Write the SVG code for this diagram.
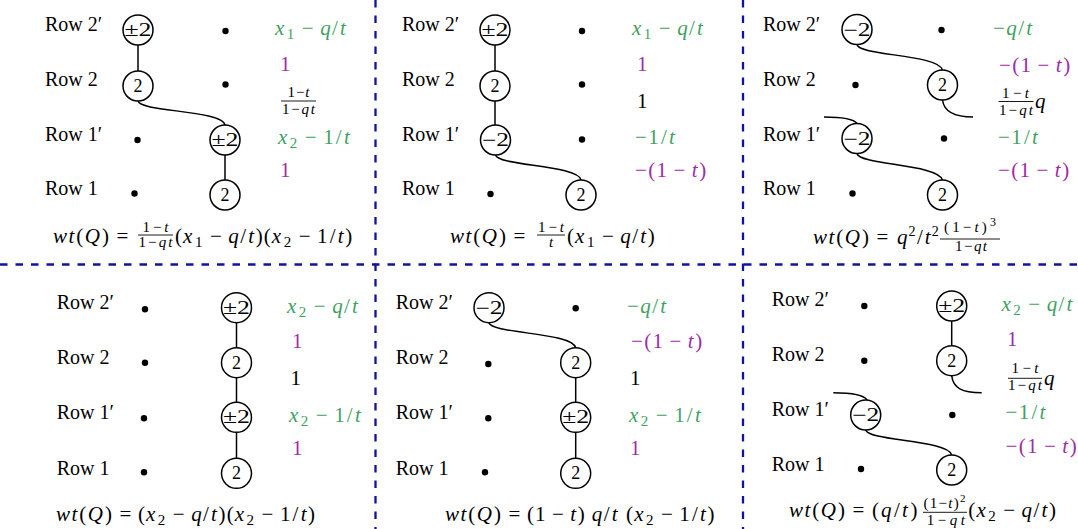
<svg xmlns="http://www.w3.org/2000/svg" width="1078" height="529" viewBox="0 0 1078 529">
<style>
.t{font-family:"Liberation Serif","DejaVu Serif",serif;font-size:20px;fill:#000}
.x{font-family:"Liberation Serif","DejaVu Serif",serif;font-size:21px;fill:#000}
.f{font-family:"Liberation Serif","DejaVu Serif",serif;font-size:15px;fill:#000;text-anchor:middle}
.i{font-style:italic}
.s{font-size:15px}
.g{fill:#3f9f62}
.m{fill:#a12aa6}
.n circle{fill:#fff;stroke:#000;stroke-width:1.5}
.n text{font-family:"Liberation Serif","DejaVu Serif",serif;font-size:18px;text-anchor:middle;fill:#000}
.d circle{fill:#000}
.e{fill:none;stroke:#000;stroke-width:1.5}
.bar{stroke:#000;stroke-width:0.9}
.sep{stroke:#12129a;stroke-width:2.3;stroke-dasharray:7.5 8;fill:none}
</style>
<rect width="1078" height="529" fill="#fff"/>
<g id="separators">
<line class="sep" x1="375.5" y1="0" x2="375.5" y2="529"/>
<line class="sep" x1="743" y1="0" x2="743" y2="529"/>
<line class="sep" x1="0" y1="264.5" x2="1078" y2="264.5"/>
</g>
<g id="connectors">
<line class="e" x1="138" y1="45" x2="138" y2="71"/>
<path class="e" d="M138,101 C140,112 222,110 225,125"/>
<line class="e" x1="225" y1="155" x2="225" y2="180"/>
<line class="e" x1="495" y1="45" x2="495" y2="71"/>
<line class="e" x1="495" y1="101" x2="495" y2="125"/>
<path class="e" d="M495.5,155 C498,166 578,165 581,180"/>
<path class="e" d="M857,44.5 C859,56 938,54 942.5,70"/>
<path class="e" d="M942.5,100 C944,112 955,117 973,117"/>
<path class="e" d="M824,117 C840,117 853,118 857,123.5"/>
<path class="e" d="M857,153.5 C859,165 938,164 942.5,180"/>
<line class="e" x1="236.5" y1="322.7" x2="236.5" y2="347.7"/>
<line class="e" x1="236.5" y1="377.7" x2="236.5" y2="402.3"/>
<line class="e" x1="236.5" y1="432.3" x2="236.5" y2="458.3"/>
<path class="e" d="M489,322.7 C491,334 572,332 575.7,347.7"/>
<line class="e" x1="575.7" y1="377.7" x2="575.7" y2="402.3"/>
<line class="e" x1="575.7" y1="432.3" x2="575.7" y2="458.3"/>
<line class="e" x1="951.7" y1="321" x2="951.7" y2="345.7"/>
<path class="e" d="M951.7,375.7 C953,388 962,392.7 981.7,392.7"/>
<path class="e" d="M833.3,392.7 C852,392.7 864,395 867,400"/>
<path class="e" d="M865.7,430 C868,441 948,440 951.7,455"/>
</g>
<!-- Panel 1 -->
<g id="p1-labels">
<text class="t" x="45" y="31">Row 2′</text>
<text class="t" x="45" y="86">Row 2</text>
<text class="t" x="45" y="141">Row 1′</text>
<text class="t" x="45" y="195">Row 1</text>
</g>
<g id="p1-n1" class="n"><circle cx="138" cy="30" r="15"/><text x="138" y="36" textLength="27" lengthAdjust="spacingAndGlyphs">±2</text></g>
<g id="p1-n2" class="n"><circle cx="138" cy="86" r="15"/><text x="138" y="92">2</text></g>
<g id="p1-n3" class="n"><circle cx="225" cy="140" r="15"/><text x="225" y="146" textLength="27" lengthAdjust="spacingAndGlyphs">±2</text></g>
<g id="p1-n4" class="n"><circle cx="225" cy="195" r="15"/><text x="225" y="201">2</text></g>
<g id="p1-dots" class="d"><circle cx="225.5" cy="31" r="3.2"/><circle cx="225.5" cy="84.5" r="3.2"/><circle cx="137.5" cy="140" r="3.2"/><circle cx="134.5" cy="193.5" r="3.2"/></g>
<g id="p1-weights">
<text class="x g" x="275" y="35"><tspan class="i">x</tspan><tspan class="s" dx="2.5" dy="4">1</tspan><tspan dx="7.5" dy="-4">−</tspan><tspan class="i" dx="6.5">q</tspan><tspan dx="1.4">/</tspan><tspan class="i" dx="2.2">t</tspan></text>
<text class="x m" x="280" y="71">1</text>
<text class="f" x="298.5" y="97" textLength="22" lengthAdjust="spacing">1−<tspan class="i">t</tspan></text>
<line class="bar" x1="281" y1="101" x2="316" y2="101"/>
<text class="f" x="298.5" y="114" textLength="33" lengthAdjust="spacing">1−<tspan class="i">qt</tspan></text>
<text class="x g" x="278" y="144"><tspan class="i">x</tspan><tspan class="s" dx="2.5" dy="4">2</tspan><tspan dx="7.5" dy="-4">−</tspan><tspan dx="6.5">1</tspan><tspan dx="2.2">/</tspan><tspan class="i" dx="2.2">t</tspan></text>
<text class="x m" x="280" y="177">1</text>
</g>
<g id="p1-formula">
<text class="x" x="53" y="242.5"><tspan class="i">w</tspan><tspan class="i" dx="1.5">t</tspan><tspan dx="2">(</tspan><tspan class="i" dx="1.5">Q</tspan><tspan dx="2">)</tspan><tspan dx="7.5">=</tspan></text>
<text class="f" x="155.5" y="232" textLength="26" lengthAdjust="spacing">1−<tspan class="i">t</tspan></text>
<line class="bar" x1="138" y1="235" x2="173" y2="235"/>
<text class="f" x="155.5" y="246.5" textLength="34" lengthAdjust="spacing">1−<tspan class="i">qt</tspan></text>
<text class="x" x="175" y="242.5">(<tspan class="i" dx="1.1">x</tspan><tspan class="s" dx="2.5" dy="4">1</tspan><tspan dx="7.5" dy="-4">−</tspan><tspan class="i" dx="6.5">q</tspan><tspan dx="1.4">/</tspan><tspan class="i" dx="2.2">t</tspan><tspan dx="1.6">)</tspan><tspan dx="1.1">(</tspan><tspan class="i" dx="1.1">x</tspan><tspan class="s" dx="2.5" dy="4">2</tspan><tspan dx="7.5" dy="-4">−</tspan><tspan dx="6.5">1</tspan><tspan dx="2.2">/</tspan><tspan class="i" dx="2.2">t</tspan><tspan dx="1.6">)</tspan></text>
</g>
<!-- Panel 2 -->
<g id="p2-labels">
<text class="t" x="402" y="31">Row 2′</text>
<text class="t" x="402" y="86">Row 2</text>
<text class="t" x="402" y="141">Row 1′</text>
<text class="t" x="402" y="195">Row 1</text>
</g>
<g id="p2-n1" class="n"><circle cx="495" cy="30" r="15"/><text x="495" y="36" textLength="27" lengthAdjust="spacingAndGlyphs">±2</text></g>
<g id="p2-n2" class="n"><circle cx="495" cy="86" r="15"/><text x="495" y="92">2</text></g>
<g id="p2-n3" class="n"><circle cx="495.5" cy="140" r="15"/><text x="495.5" y="146" textLength="27" lengthAdjust="spacingAndGlyphs">−2</text></g>
<g id="p2-n4" class="n"><circle cx="581" cy="195" r="15"/><text x="581" y="201">2</text></g>
<g id="p2-dots" class="d"><circle cx="582" cy="31" r="3.2"/><circle cx="582" cy="84.5" r="3.2"/><circle cx="582" cy="139.5" r="3.2"/><circle cx="490.5" cy="194" r="3.2"/></g>
<g id="p2-weights">
<text class="x g" x="632" y="35"><tspan class="i">x</tspan><tspan class="s" dx="2.5" dy="4">1</tspan><tspan dx="7.5" dy="-4">−</tspan><tspan class="i" dx="6.5">q</tspan><tspan dx="1.4">/</tspan><tspan class="i" dx="2.2">t</tspan></text>
<text class="x m" x="637" y="71">1</text>
<text class="x" x="637" y="107.5">1</text>
<text class="x g" x="635" y="143.5">−<tspan dx="1.5">1</tspan><tspan dx="2.2">/</tspan><tspan class="i" dx="2.2">t</tspan></text>
<text class="x m" x="635" y="176.5">−<tspan dx="1.5">(</tspan><tspan dx="1.1">1</tspan><tspan dx="6.5">−</tspan><tspan class="i" dx="6.5">t</tspan><tspan dx="1.6">)</tspan></text>
</g>
<g id="p2-formula">
<text class="x" x="450" y="242.5"><tspan class="i">w</tspan><tspan class="i" dx="1.5">t</tspan><tspan dx="2">(</tspan><tspan class="i" dx="1.5">Q</tspan><tspan dx="2">)</tspan><tspan dx="7.5">=</tspan></text>
<text class="f" x="551" y="232" textLength="26" lengthAdjust="spacing">1−<tspan class="i">t</tspan></text>
<line class="bar" x1="537" y1="235" x2="565" y2="235"/>
<text class="f i" x="551" y="246.5">t</text>
<text class="x" x="567" y="242.5">(<tspan class="i" dx="1.1">x</tspan><tspan class="s" dx="2.5" dy="4">1</tspan><tspan dx="7.5" dy="-4">−</tspan><tspan class="i" dx="6.5">q</tspan><tspan dx="1.4">/</tspan><tspan class="i" dx="2.2">t</tspan><tspan dx="1.6">)</tspan></text>
</g>
<!-- Panel 3 -->
<g id="p3-labels">
<text class="t" x="763" y="31">Row 2′</text>
<text class="t" x="763" y="86">Row 2</text>
<text class="t" x="763" y="141">Row 1′</text>
<text class="t" x="763" y="195">Row 1</text>
</g>
<g id="p3-n1" class="n"><circle cx="857" cy="29.5" r="15"/><text x="857" y="35.5" textLength="27" lengthAdjust="spacingAndGlyphs">−2</text></g>
<g id="p3-n2" class="n"><circle cx="942.5" cy="85" r="15"/><text x="942.5" y="91">2</text></g>
<g id="p3-n3" class="n"><circle cx="857" cy="138.5" r="15"/><text x="857" y="144.5" textLength="27" lengthAdjust="spacingAndGlyphs">−2</text></g>
<g id="p3-n4" class="n"><circle cx="942.5" cy="195" r="15"/><text x="942.5" y="201">2</text></g>
<g id="p3-dots" class="d"><circle cx="941.5" cy="30" r="3.2"/><circle cx="855.5" cy="85" r="3.2"/><circle cx="944" cy="138.5" r="3.2"/><circle cx="852.5" cy="193.5" r="3.2"/></g>
<g id="p3-weights">
<text class="x g" x="993" y="35">−<tspan class="i" dx="1.5">q</tspan><tspan dx="1.4">/</tspan><tspan class="i" dx="2.2">t</tspan></text>
<text class="x m" x="999" y="71.5">−<tspan dx="1.5">(</tspan><tspan dx="1.1">1</tspan><tspan dx="6.5">−</tspan><tspan class="i" dx="6.5">t</tspan><tspan dx="1.6">)</tspan></text>
<text class="f" x="1015.5" y="97.5" textLength="27" lengthAdjust="spacing">1−<tspan class="i">t</tspan></text>
<line class="bar" x1="998.5" y1="101.5" x2="1033.5" y2="101.5"/>
<text class="f" x="1016" y="114.5" textLength="34" lengthAdjust="spacing">1−<tspan class="i">qt</tspan></text>
<text class="x i" x="1035" y="108">q</text>
<text class="x g" x="998" y="143.5">−<tspan dx="1.5">1</tspan><tspan dx="2.2">/</tspan><tspan class="i" dx="2.2">t</tspan></text>
<text class="x m" x="998" y="177">−<tspan dx="1.5">(</tspan><tspan dx="1.1">1</tspan><tspan dx="6.5">−</tspan><tspan class="i" dx="6.5">t</tspan><tspan dx="1.6">)</tspan></text>
</g>
<g id="p3-formula">
<text class="x" x="813" y="243.5"><tspan class="i">w</tspan><tspan class="i" dx="1.5">t</tspan><tspan dx="2">(</tspan><tspan class="i" dx="1.5">Q</tspan><tspan dx="2">)</tspan><tspan dx="7.5">=</tspan></text>
<text class="x" x="897" y="243.5"><tspan class="i">q</tspan><tspan font-size="14" dx="1" dy="-8">2</tspan><tspan dx="1.5" dy="8">/</tspan><tspan class="i" dx="2">t</tspan><tspan font-size="14" dx="1" dy="-8">2</tspan></text>
<text class="f" x="970" y="232.3" font-size="16" textLength="52" lengthAdjust="spacing">(1−<tspan class="i">t</tspan>)<tspan font-size="12" dy="-6">3</tspan></text>
<line class="bar" x1="940" y1="239" x2="1000" y2="239"/>
<text class="f" x="971" y="251" textLength="32" lengthAdjust="spacing">1−<tspan class="i">qt</tspan></text>
</g>
<!-- Panel 4 -->
<g id="p4-labels">
<text class="t" x="56.7" y="309.3">Row 2′</text>
<text class="t" x="56.7" y="364.3">Row 2</text>
<text class="t" x="56.7" y="419">Row 1′</text>
<text class="t" x="56.7" y="475">Row 1</text>
</g>
<g id="p4-n1" class="n"><circle cx="236.5" cy="307.7" r="15"/><text x="236.5" y="313.7" textLength="27" lengthAdjust="spacingAndGlyphs">±2</text></g>
<g id="p4-n2" class="n"><circle cx="236.5" cy="362.7" r="15"/><text x="236.5" y="368.7">2</text></g>
<g id="p4-n3" class="n"><circle cx="236.5" cy="417.3" r="15"/><text x="236.5" y="423.3" textLength="27" lengthAdjust="spacingAndGlyphs">±2</text></g>
<g id="p4-n4" class="n"><circle cx="236.5" cy="473.3" r="15"/><text x="236.5" y="479.3">2</text></g>
<g id="p4-dots" class="d"><circle cx="145" cy="309.3" r="3.2"/><circle cx="145" cy="362.7" r="3.2"/><circle cx="144" cy="418.3" r="3.2"/><circle cx="144" cy="472.3" r="3.2"/></g>
<g id="p4-weights">
<text class="x g" x="287" y="312.5"><tspan class="i">x</tspan><tspan class="s" dx="2.5" dy="4">2</tspan><tspan dx="7.5" dy="-4">−</tspan><tspan class="i" dx="6.5">q</tspan><tspan dx="1.4">/</tspan><tspan class="i" dx="2.2">t</tspan></text>
<text class="x m" x="292" y="348">1</text>
<text class="x" x="290.5" y="385">1</text>
<text class="x g" x="289" y="421.5"><tspan class="i">x</tspan><tspan class="s" dx="2.5" dy="4">2</tspan><tspan dx="7.5" dy="-4">−</tspan><tspan dx="6.5">1</tspan><tspan dx="2.2">/</tspan><tspan class="i" dx="2.2">t</tspan></text>
<text class="x m" x="292" y="455">1</text>
</g>
<g id="p4-formula">
<text class="x" x="56" y="521"><tspan class="i">w</tspan><tspan class="i" dx="1.5">t</tspan><tspan dx="2">(</tspan><tspan class="i" dx="1.5">Q</tspan><tspan dx="2">)</tspan><tspan dx="7.5">=</tspan><tspan dx="6.5">(</tspan><tspan class="i" dx="1.1">x</tspan><tspan class="s" dx="2.5" dy="4">2</tspan><tspan dx="7.5" dy="-4">−</tspan><tspan class="i" dx="6.5">q</tspan><tspan dx="1.4">/</tspan><tspan class="i" dx="2.2">t</tspan><tspan dx="1.6">)</tspan><tspan dx="1.1">(</tspan><tspan class="i" dx="1.1">x</tspan><tspan class="s" dx="2.5" dy="4">2</tspan><tspan dx="7.5" dy="-4">−</tspan><tspan dx="6.5">1</tspan><tspan dx="2.2">/</tspan><tspan class="i" dx="2.2">t</tspan><tspan dx="1.6">)</tspan></text>
</g>
<!-- Panel 5 -->
<g id="p5-labels">
<text class="t" x="395.7" y="309.3">Row 2′</text>
<text class="t" x="395.7" y="364">Row 2</text>
<text class="t" x="395.7" y="419">Row 1′</text>
<text class="t" x="395.7" y="475">Row 1</text>
</g>
<g id="p5-n1" class="n"><circle cx="489" cy="307.7" r="15"/><text x="489" y="313.7" textLength="27" lengthAdjust="spacingAndGlyphs">−2</text></g>
<g id="p5-n2" class="n"><circle cx="575.7" cy="362.7" r="15"/><text x="575.7" y="368.7">2</text></g>
<g id="p5-n3" class="n"><circle cx="575.7" cy="417.3" r="15"/><text x="575.7" y="423.3" textLength="27" lengthAdjust="spacingAndGlyphs">±2</text></g>
<g id="p5-n4" class="n"><circle cx="575.7" cy="473.3" r="15"/><text x="575.7" y="479.3">2</text></g>
<g id="p5-dots" class="d"><circle cx="575.7" cy="308.3" r="3.2"/><circle cx="488.3" cy="364" r="3.2"/><circle cx="488.3" cy="418.3" r="3.2"/><circle cx="485" cy="472.3" r="3.2"/></g>
<g id="p5-weights">
<text class="x g" x="627" y="312.5">−<tspan class="i" dx="1.5">q</tspan><tspan dx="1.4">/</tspan><tspan class="i" dx="2.2">t</tspan></text>
<text class="x m" x="631" y="348">−<tspan dx="1.5">(</tspan><tspan dx="1.1">1</tspan><tspan dx="6.5">−</tspan><tspan class="i" dx="6.5">t</tspan><tspan dx="1.6">)</tspan></text>
<text class="x" x="630" y="385">1</text>
<text class="x g" x="629" y="421.5"><tspan class="i">x</tspan><tspan class="s" dx="2.5" dy="4">2</tspan><tspan dx="7.5" dy="-4">−</tspan><tspan dx="6.5">1</tspan><tspan dx="2.2">/</tspan><tspan class="i" dx="2.2">t</tspan></text>
<text class="x m" x="630" y="455">1</text>
</g>
<g id="p5-formula">
<text class="x" x="445" y="521"><tspan class="i">w</tspan><tspan class="i" dx="1.5">t</tspan><tspan dx="2">(</tspan><tspan class="i" dx="1.5">Q</tspan><tspan dx="2">)</tspan><tspan dx="7.5">=</tspan><tspan dx="6.5">(</tspan><tspan dx="1.1">1</tspan><tspan dx="6.5">−</tspan><tspan class="i" dx="6.5">t</tspan><tspan dx="1.6">)</tspan><tspan class="i" dx="7">q</tspan><tspan dx="1.4">/</tspan><tspan class="i" dx="2.2">t</tspan><tspan dx="8.5">(</tspan><tspan class="i" dx="1.1">x</tspan><tspan class="s" dx="2.5" dy="4">2</tspan><tspan dx="7.5" dy="-4">−</tspan><tspan dx="6.5">1</tspan><tspan dx="2.2">/</tspan><tspan class="i" dx="2.2">t</tspan><tspan dx="1.6">)</tspan></text>
</g>
<!-- Panel 6 -->
<g id="p6-labels">
<text class="t" x="771.7" y="306">Row 2′</text>
<text class="t" x="771.7" y="361">Row 2</text>
<text class="t" x="771.7" y="415.7">Row 1′</text>
<text class="t" x="771.7" y="470.7">Row 1</text>
</g>
<g id="p6-n1" class="n"><circle cx="951.7" cy="306" r="15"/><text x="951.7" y="312" textLength="27" lengthAdjust="spacingAndGlyphs">±2</text></g>
<g id="p6-n2" class="n"><circle cx="951.7" cy="360.7" r="15"/><text x="951.7" y="366.7">2</text></g>
<g id="p6-n3" class="n"><circle cx="865.7" cy="415" r="15"/><text x="865.7" y="421" textLength="27" lengthAdjust="spacingAndGlyphs">−2</text></g>
<g id="p6-n4" class="n"><circle cx="951.7" cy="470" r="15"/><text x="951.7" y="476">2</text></g>
<g id="p6-dots" class="d"><circle cx="864.3" cy="306" r="3.2"/><circle cx="864.3" cy="360.7" r="3.2"/><circle cx="952.3" cy="415" r="3.2"/><circle cx="861" cy="469" r="3.2"/></g>
<g id="p6-weights">
<text class="x g" x="1001.5" y="311"><tspan class="i">x</tspan><tspan class="s" dx="2.5" dy="4">2</tspan><tspan dx="7.5" dy="-4">−</tspan><tspan class="i" dx="6.5">q</tspan><tspan dx="1.4">/</tspan><tspan class="i" dx="2.2">t</tspan></text>
<text class="x m" x="1007" y="346">1</text>
<text class="f" x="1025" y="373" textLength="27" lengthAdjust="spacing">1−<tspan class="i">t</tspan></text>
<line class="bar" x1="1008" y1="378.3" x2="1042" y2="378.3"/>
<text class="f" x="1025" y="390" textLength="34" lengthAdjust="spacing">1−<tspan class="i">qt</tspan></text>
<text class="x i" x="1044" y="385">q</text>
<text class="x g" x="1005.5" y="418.5">−<tspan dx="1.5">1</tspan><tspan dx="2.2">/</tspan><tspan class="i" dx="2.2">t</tspan></text>
<text class="x m" x="1005.5" y="452.5">−<tspan dx="1.5">(</tspan><tspan dx="1.1">1</tspan><tspan dx="6.5">−</tspan><tspan class="i" dx="6.5">t</tspan><tspan dx="1.6">)</tspan></text>
</g>
<g id="p6-formula">
<text class="x" x="789" y="517"><tspan class="i">w</tspan><tspan class="i" dx="1.5">t</tspan><tspan dx="2">(</tspan><tspan class="i" dx="1.5">Q</tspan><tspan dx="2">)</tspan><tspan dx="7.5">=</tspan></text>
<text class="x" x="872" y="517">(<tspan class="i" dx="2">q</tspan><tspan dx="2.5">/</tspan><tspan class="i" dx="2.2">t</tspan><tspan dx="2.5">)</tspan></text>
<text class="f" x="944.5" y="508.3" textLength="42" lengthAdjust="spacing">(1−<tspan class="i">t</tspan>)<tspan font-size="11" dy="-6">2</tspan></text>
<line class="bar" x1="923" y1="512.3" x2="967" y2="512.3"/>
<text class="f" x="945.8" y="524.5" textLength="38" lengthAdjust="spacing">1−<tspan class="i">qt</tspan></text>
<text class="x" x="968.3" y="517">(<tspan class="i" dx="1.1">x</tspan><tspan class="s" dx="2.5" dy="4">2</tspan><tspan dx="7.5" dy="-4">−</tspan><tspan class="i" dx="6.5">q</tspan><tspan dx="1.4">/</tspan><tspan class="i" dx="2.2">t</tspan><tspan dx="1.6">)</tspan></text>
</g>
</svg>
